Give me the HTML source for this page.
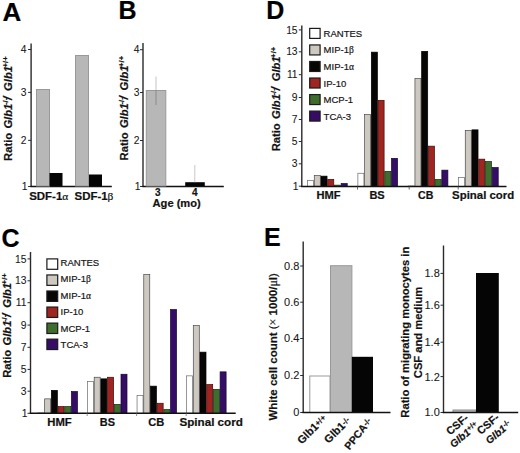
<!DOCTYPE html>
<html><head><meta charset="utf-8"><style>
html,body{margin:0;padding:0;background:#fff;}
svg{display:block;font-family:"Liberation Sans", sans-serif;}
text{stroke:#1a1a1a;stroke-width:0.2px;}
</style></head><body>
<svg width="520" height="453" viewBox="0 0 520 453">
<rect x="0" y="0" width="520" height="453" fill="#fff"/>
<text transform="translate(2.4,20.8) scale(1.04,1)" font-size="25" font-weight="bold" font-style="normal" text-anchor="start" fill="#000" >A</text>
<text transform="translate(118.4,18.8) scale(1.0,1)" font-size="25" font-weight="bold" font-style="normal" text-anchor="start" fill="#000" >B</text>
<text transform="translate(1.4,247.0) scale(1.0,1)" font-size="25" font-weight="bold" font-style="normal" text-anchor="start" fill="#000" >C</text>
<text transform="translate(266.3,18.6) scale(1.0,1)" font-size="25" font-weight="bold" font-style="normal" text-anchor="start" fill="#000" >D</text>
<text transform="translate(264.1,246.2) scale(1.0,1)" font-size="25" font-weight="bold" font-style="normal" text-anchor="start" fill="#000" >E</text>
<line x1="31.1" y1="43.5" x2="31.1" y2="187.1" stroke="#2a2a2a" stroke-width="1.4"/>
<line x1="28.1" y1="49.5" x2="31.1" y2="49.5" stroke="#2a2a2a" stroke-width="1.0"/>
<text transform="translate(26.6,52.787400000000005) scale(1.0,1)" font-size="10.3" font-weight="normal" font-style="normal" text-anchor="end" fill="#161616" style="stroke-width:0.08px">4</text>
<line x1="28.1" y1="92.4" x2="31.1" y2="92.4" stroke="#2a2a2a" stroke-width="1.0"/>
<text transform="translate(26.6,95.6874) scale(1.0,1)" font-size="10.3" font-weight="normal" font-style="normal" text-anchor="end" fill="#161616" style="stroke-width:0.08px">3</text>
<line x1="28.1" y1="140.35" x2="31.1" y2="140.35" stroke="#2a2a2a" stroke-width="1.0"/>
<text transform="translate(26.6,143.5874) scale(1.0,1)" font-size="10.3" font-weight="normal" font-style="normal" text-anchor="end" fill="#161616" style="stroke-width:0.08px">2</text>
<line x1="28.1" y1="186.5" x2="31.1" y2="186.5" stroke="#2a2a2a" stroke-width="1.0"/>
<text transform="translate(27.6,189.7874) scale(1.0,1)" font-size="10.3" font-weight="normal" font-style="normal" text-anchor="end" fill="#161616" style="stroke-width:0.08px">1</text>
<line x1="30.4" y1="186.5" x2="111.8" y2="186.5" stroke="#111" stroke-width="1.5"/>
<rect x="36.50" y="89.50" width="13.00" height="96.50" fill="#b7b7b7" stroke="#999" stroke-width="1"/>
<rect x="49.50" y="173.00" width="13.00" height="13.00" fill="#050505"/>
<rect x="75.50" y="55.50" width="13.00" height="130.50" fill="#b7b7b7" stroke="#999" stroke-width="1"/>
<rect x="89.00" y="174.50" width="13.00" height="11.50" fill="#050505"/>
<text transform="translate(48.75,199.7) scale(1.08,1)" font-size="10.6" font-weight="bold" font-style="normal" text-anchor="middle" fill="#111" >SDF-1<tspan font-family="Liberation Serif" font-weight="normal">α</tspan></text>
<text transform="translate(94.0,199.7) scale(1.08,1)" font-size="10.6" font-weight="bold" font-style="normal" text-anchor="middle" fill="#111" >SDF-1<tspan font-family="Liberation Serif" font-weight="normal">β</tspan></text>
<text transform="translate(11.6,160.1) rotate(-90)" font-size="11.2" font-weight="bold" fill="#111"><tspan x="-0.8">Ratio</tspan><tspan x="31.5" font-style="italic">Glb1</tspan><tspan x="55.0" font-size="7.8" dy="-4">-/-</tspan><tspan x="60.0" dy="4" font-style="italic" font-size="12.5">/</tspan><tspan x="69.2" font-style="italic">Glb1</tspan><tspan x="92.6" font-size="7.8" dy="-4">+/+</tspan></text>
<line x1="143.0" y1="43.0" x2="143.0" y2="187.1" stroke="#2a2a2a" stroke-width="1.4"/>
<line x1="140.0" y1="49.7" x2="143.0" y2="49.7" stroke="#2a2a2a" stroke-width="1.0"/>
<text transform="translate(139.5,53.3874) scale(1.0,1)" font-size="10.3" font-weight="normal" font-style="normal" text-anchor="end" fill="#161616" style="stroke-width:0.08px">4</text>
<line x1="140.0" y1="92.5" x2="143.0" y2="92.5" stroke="#2a2a2a" stroke-width="1.0"/>
<text transform="translate(139.5,96.1874) scale(1.0,1)" font-size="10.3" font-weight="normal" font-style="normal" text-anchor="end" fill="#161616" style="stroke-width:0.08px">3</text>
<line x1="140.0" y1="140.5" x2="143.0" y2="140.5" stroke="#2a2a2a" stroke-width="1.0"/>
<text transform="translate(139.5,144.1874) scale(1.0,1)" font-size="10.3" font-weight="normal" font-style="normal" text-anchor="end" fill="#161616" style="stroke-width:0.08px">2</text>
<line x1="140.0" y1="186.5" x2="143.0" y2="186.5" stroke="#2a2a2a" stroke-width="1.0"/>
<text transform="translate(140.5,190.1874) scale(1.0,1)" font-size="10.3" font-weight="normal" font-style="normal" text-anchor="end" fill="#161616" style="stroke-width:0.08px">1</text>
<line x1="142.3" y1="186.4" x2="223.8" y2="186.4" stroke="#111" stroke-width="1.5"/>
<rect x="146.30" y="90.50" width="19.50" height="95.50" fill="#b7b7b7" stroke="#999" stroke-width="1"/>
<line x1="156" y1="76.5" x2="156" y2="90" stroke="#c4c4c4" stroke-width="1.0"/>
<line x1="156" y1="90" x2="156" y2="105" stroke="#8a8a8a" stroke-width="1.0"/>
<rect x="185.20" y="182.20" width="19.60" height="3.80" fill="#050505"/>
<line x1="194.8" y1="165" x2="194.8" y2="182.2" stroke="#c8c8c8" stroke-width="1.0"/>
<text transform="translate(157.7,196.4) scale(1.0,1)" font-size="10.0" font-weight="bold" font-style="normal" text-anchor="middle" fill="#111" >3</text>
<text transform="translate(194.9,196.4) scale(1.0,1)" font-size="10.0" font-weight="bold" font-style="normal" text-anchor="middle" fill="#111" >4</text>
<text transform="translate(176.65,206.6) scale(1.05,1)" font-size="10.6" font-weight="bold" font-style="normal" text-anchor="middle" fill="#111" >Age (mo)</text>
<text transform="translate(128.3,159.6) rotate(-90)" font-size="11.2" font-weight="bold" fill="#111"><tspan x="-0.8">Ratio</tspan><tspan x="31.5" font-style="italic">Glb1</tspan><tspan x="55.0" font-size="7.8" dy="-4">-/-</tspan><tspan x="60.0" dy="4" font-style="italic" font-size="12.5">/</tspan><tspan x="69.2" font-style="italic">Glb1</tspan><tspan x="92.6" font-size="7.8" dy="-4">+/+</tspan></text>
<line x1="301.8" y1="25.5" x2="301.8" y2="187.1" stroke="#2a2a2a" stroke-width="1.4"/>
<line x1="298.8" y1="29.9" x2="301.8" y2="29.9" stroke="#2a2a2a" stroke-width="1.0"/>
<text transform="translate(297.6,33.5874) scale(1.0,1)" font-size="10.3" font-weight="normal" font-style="normal" text-anchor="end" fill="#161616" style="stroke-width:0.08px">15</text>
<line x1="298.8" y1="51.8" x2="301.8" y2="51.8" stroke="#2a2a2a" stroke-width="1.0"/>
<text transform="translate(297.6,55.487399999999994) scale(1.0,1)" font-size="10.3" font-weight="normal" font-style="normal" text-anchor="end" fill="#161616" style="stroke-width:0.08px">13</text>
<line x1="298.8" y1="74.7" x2="301.8" y2="74.7" stroke="#2a2a2a" stroke-width="1.0"/>
<text transform="translate(297.6,78.3874) scale(1.0,1)" font-size="10.3" font-weight="normal" font-style="normal" text-anchor="end" fill="#161616" style="stroke-width:0.08px">11</text>
<line x1="298.8" y1="97.5" x2="301.8" y2="97.5" stroke="#2a2a2a" stroke-width="1.0"/>
<text transform="translate(297.6,101.1874) scale(1.0,1)" font-size="10.3" font-weight="normal" font-style="normal" text-anchor="end" fill="#161616" style="stroke-width:0.08px">9</text>
<line x1="298.8" y1="119.5" x2="301.8" y2="119.5" stroke="#2a2a2a" stroke-width="1.0"/>
<text transform="translate(297.6,123.1874) scale(1.0,1)" font-size="10.3" font-weight="normal" font-style="normal" text-anchor="end" fill="#161616" style="stroke-width:0.08px">7</text>
<line x1="298.8" y1="141.5" x2="301.8" y2="141.5" stroke="#2a2a2a" stroke-width="1.0"/>
<text transform="translate(297.6,145.1874) scale(1.0,1)" font-size="10.3" font-weight="normal" font-style="normal" text-anchor="end" fill="#161616" style="stroke-width:0.08px">5</text>
<line x1="298.8" y1="163.8" x2="301.8" y2="163.8" stroke="#2a2a2a" stroke-width="1.0"/>
<text transform="translate(297.6,167.4874) scale(1.0,1)" font-size="10.3" font-weight="normal" font-style="normal" text-anchor="end" fill="#161616" style="stroke-width:0.08px">3</text>
<line x1="298.8" y1="186.2" x2="301.8" y2="186.2" stroke="#2a2a2a" stroke-width="1.0"/>
<text transform="translate(298.6,189.88739999999999) scale(1.0,1)" font-size="10.3" font-weight="normal" font-style="normal" text-anchor="end" fill="#161616" style="stroke-width:0.08px">1</text>
<rect x="307.55" y="180.35" width="6.03" height="6.15" fill="#ffffff" stroke="#6a6a6a" stroke-width="0.7"/>
<rect x="314.28" y="175.55" width="6.03" height="10.95" fill="#cdc8c0" stroke="#4a4a4a" stroke-width="0.7"/>
<rect x="321.01" y="176.15" width="6.03" height="10.35" fill="#080605" stroke="#000" stroke-width="0.7"/>
<rect x="327.74" y="179.35" width="6.03" height="7.15" fill="#a02420" stroke="#3a0a08" stroke-width="0.7"/>
<rect x="334.47" y="185.15" width="6.03" height="1.35" fill="#3e6d2c" stroke="#142a10" stroke-width="0.7"/>
<rect x="341.20" y="183.55" width="6.03" height="2.95" fill="#360c66" stroke="#100830" stroke-width="0.7"/>
<rect x="357.88" y="173.25" width="6.03" height="13.25" fill="#ffffff" stroke="#6a6a6a" stroke-width="0.7"/>
<rect x="364.61" y="114.55" width="6.03" height="71.95" fill="#cdc8c0" stroke="#4a4a4a" stroke-width="0.7"/>
<rect x="371.34" y="52.15" width="6.03" height="134.35" fill="#080605" stroke="#000" stroke-width="0.7"/>
<rect x="378.07" y="100.35" width="6.03" height="86.15" fill="#a02420" stroke="#3a0a08" stroke-width="0.7"/>
<rect x="384.80" y="171.35" width="6.03" height="15.15" fill="#3e6d2c" stroke="#142a10" stroke-width="0.7"/>
<rect x="391.53" y="158.35" width="6.03" height="28.15" fill="#360c66" stroke="#100830" stroke-width="0.7"/>
<rect x="408.21" y="185.95" width="6.03" height="0.55" fill="#ffffff" stroke="#6a6a6a" stroke-width="0.7"/>
<rect x="414.94" y="78.55" width="6.03" height="107.95" fill="#cdc8c0" stroke="#4a4a4a" stroke-width="0.7"/>
<rect x="421.67" y="51.35" width="6.03" height="135.15" fill="#080605" stroke="#000" stroke-width="0.7"/>
<rect x="428.40" y="146.15" width="6.03" height="40.35" fill="#a02420" stroke="#3a0a08" stroke-width="0.7"/>
<rect x="435.13" y="179.45" width="6.03" height="7.05" fill="#3e6d2c" stroke="#142a10" stroke-width="0.7"/>
<rect x="441.86" y="170.15" width="6.03" height="16.35" fill="#360c66" stroke="#100830" stroke-width="0.7"/>
<rect x="458.54" y="177.45" width="6.03" height="9.05" fill="#ffffff" stroke="#6a6a6a" stroke-width="0.7"/>
<rect x="465.27" y="130.35" width="6.03" height="56.15" fill="#cdc8c0" stroke="#4a4a4a" stroke-width="0.7"/>
<rect x="472.00" y="129.85" width="6.03" height="56.65" fill="#080605" stroke="#000" stroke-width="0.7"/>
<rect x="478.73" y="159.15" width="6.03" height="27.35" fill="#a02420" stroke="#3a0a08" stroke-width="0.7"/>
<rect x="485.46" y="161.55" width="6.03" height="24.95" fill="#3e6d2c" stroke="#142a10" stroke-width="0.7"/>
<rect x="492.19" y="167.55" width="6.03" height="18.95" fill="#360c66" stroke="#100830" stroke-width="0.7"/>
<line x1="301.1" y1="186.5" x2="506.5" y2="186.5" stroke="#111" stroke-width="1.5"/>
<line x1="357.5" y1="186.5" x2="357.5" y2="189.5" stroke="#555" stroke-width="0.9"/>
<line x1="409.2" y1="186.5" x2="409.2" y2="189.5" stroke="#555" stroke-width="0.9"/>
<line x1="458.2" y1="186.5" x2="458.2" y2="189.5" stroke="#555" stroke-width="0.9"/>
<rect x="309.70" y="28.40" width="10.40" height="10.00" fill="#ffffff" stroke="#1a1a1a" stroke-width="1.2"/>
<text transform="translate(323.6,36.9) scale(1.0,1)" font-size="9.5" font-weight="normal" font-style="normal" text-anchor="start" fill="#141414" >RANTES</text>
<rect x="309.70" y="44.94" width="10.40" height="10.00" fill="#cdc8c0" stroke="#1a1a1a" stroke-width="1.2"/>
<text transform="translate(323.6,53.459999999999994) scale(1.0,1)" font-size="9.5" font-weight="normal" font-style="normal" text-anchor="start" fill="#141414" >MIP-1<tspan font-family="Liberation Serif" font-weight="normal">β</tspan></text>
<rect x="309.70" y="61.48" width="10.40" height="10.00" fill="#080605" stroke="#1a1a1a" stroke-width="1.2"/>
<text transform="translate(323.6,70.02) scale(1.0,1)" font-size="9.5" font-weight="normal" font-style="normal" text-anchor="start" fill="#141414" >MIP-1<tspan font-family="Liberation Serif" font-weight="normal">α</tspan></text>
<rect x="309.70" y="78.02" width="10.40" height="10.00" fill="#a02420" stroke="#1a1a1a" stroke-width="1.2"/>
<text transform="translate(323.6,86.57999999999998) scale(1.0,1)" font-size="9.5" font-weight="normal" font-style="normal" text-anchor="start" fill="#141414" >IP-10</text>
<rect x="309.70" y="94.56" width="10.40" height="10.00" fill="#3e6d2c" stroke="#1a1a1a" stroke-width="1.2"/>
<text transform="translate(323.6,103.13999999999999) scale(1.0,1)" font-size="9.5" font-weight="normal" font-style="normal" text-anchor="start" fill="#141414" >MCP-1</text>
<rect x="309.70" y="111.10" width="10.40" height="10.00" fill="#360c66" stroke="#1a1a1a" stroke-width="1.2"/>
<text transform="translate(323.6,119.69999999999999) scale(1.0,1)" font-size="9.5" font-weight="normal" font-style="normal" text-anchor="start" fill="#141414" >TCA-3</text>
<text transform="translate(328.5,198.8) scale(1.05,1)" font-size="10.6" font-weight="bold" font-style="normal" text-anchor="middle" fill="#111" >HMF</text>
<text transform="translate(377.05,198.8) scale(1.04,1)" font-size="10.6" font-weight="bold" font-style="normal" text-anchor="middle" fill="#111" >BS</text>
<text transform="translate(425.65,198.8) scale(1.0,1)" font-size="10.6" font-weight="bold" font-style="normal" text-anchor="middle" fill="#111" >CB</text>
<text transform="translate(483.15,198.8) scale(1.077,1)" font-size="10.6" font-weight="bold" font-style="normal" text-anchor="middle" fill="#111" >Spinal cord</text>
<text transform="translate(280.0,150.5) rotate(-90)" font-size="11.2" font-weight="bold" fill="#111"><tspan x="-0.8">Ratio</tspan><tspan x="31.5" font-style="italic">Glb1</tspan><tspan x="55.0" font-size="7.8" dy="-4">-/-</tspan><tspan x="60.0" dy="4" font-style="italic" font-size="12.5">/</tspan><tspan x="69.2" font-style="italic">Glb1</tspan><tspan x="92.6" font-size="7.8" dy="-4">+/+</tspan></text>
<line x1="30.5" y1="252.0" x2="30.5" y2="413.90000000000003" stroke="#2a2a2a" stroke-width="1.4"/>
<line x1="27.5" y1="258.9" x2="30.5" y2="258.9" stroke="#2a2a2a" stroke-width="1.0"/>
<text transform="translate(26.4,262.5874) scale(1.0,1)" font-size="10.3" font-weight="normal" font-style="normal" text-anchor="end" fill="#161616" style="stroke-width:0.08px">15</text>
<line x1="27.5" y1="280.8" x2="30.5" y2="280.8" stroke="#2a2a2a" stroke-width="1.0"/>
<text transform="translate(26.4,284.48740000000004) scale(1.0,1)" font-size="10.3" font-weight="normal" font-style="normal" text-anchor="end" fill="#161616" style="stroke-width:0.08px">13</text>
<line x1="27.5" y1="302.7" x2="30.5" y2="302.7" stroke="#2a2a2a" stroke-width="1.0"/>
<text transform="translate(26.4,306.3874) scale(1.0,1)" font-size="10.3" font-weight="normal" font-style="normal" text-anchor="end" fill="#161616" style="stroke-width:0.08px">11</text>
<line x1="27.5" y1="325.1" x2="30.5" y2="325.1" stroke="#2a2a2a" stroke-width="1.0"/>
<text transform="translate(26.4,328.78740000000005) scale(1.0,1)" font-size="10.3" font-weight="normal" font-style="normal" text-anchor="end" fill="#161616" style="stroke-width:0.08px">9</text>
<line x1="27.5" y1="347.3" x2="30.5" y2="347.3" stroke="#2a2a2a" stroke-width="1.0"/>
<text transform="translate(26.4,350.98740000000004) scale(1.0,1)" font-size="10.3" font-weight="normal" font-style="normal" text-anchor="end" fill="#161616" style="stroke-width:0.08px">7</text>
<line x1="27.5" y1="369.4" x2="30.5" y2="369.4" stroke="#2a2a2a" stroke-width="1.0"/>
<text transform="translate(26.4,373.0874) scale(1.0,1)" font-size="10.3" font-weight="normal" font-style="normal" text-anchor="end" fill="#161616" style="stroke-width:0.08px">5</text>
<line x1="27.5" y1="391.2" x2="30.5" y2="391.2" stroke="#2a2a2a" stroke-width="1.0"/>
<text transform="translate(26.4,394.8874) scale(1.0,1)" font-size="10.3" font-weight="normal" font-style="normal" text-anchor="end" fill="#161616" style="stroke-width:0.08px">3</text>
<line x1="27.5" y1="413.3" x2="30.5" y2="413.3" stroke="#2a2a2a" stroke-width="1.0"/>
<text transform="translate(27.4,416.98740000000004) scale(1.0,1)" font-size="10.3" font-weight="normal" font-style="normal" text-anchor="end" fill="#161616" style="stroke-width:0.08px">1</text>
<rect x="37.95" y="412.95" width="6.00" height="0.35" fill="#ffffff" stroke="#6a6a6a" stroke-width="0.7"/>
<rect x="44.65" y="398.85" width="6.00" height="14.45" fill="#cdc8c0" stroke="#4a4a4a" stroke-width="0.7"/>
<rect x="51.35" y="390.35" width="6.00" height="22.95" fill="#080605" stroke="#000" stroke-width="0.7"/>
<rect x="58.05" y="406.55" width="6.00" height="6.75" fill="#a02420" stroke="#3a0a08" stroke-width="0.7"/>
<rect x="64.75" y="406.55" width="6.00" height="6.75" fill="#3e6d2c" stroke="#142a10" stroke-width="0.7"/>
<rect x="71.45" y="391.55" width="6.00" height="21.75" fill="#360c66" stroke="#100830" stroke-width="0.7"/>
<rect x="87.50" y="381.55" width="6.00" height="31.75" fill="#ffffff" stroke="#6a6a6a" stroke-width="0.7"/>
<rect x="94.20" y="377.25" width="6.00" height="36.05" fill="#cdc8c0" stroke="#4a4a4a" stroke-width="0.7"/>
<rect x="100.90" y="378.85" width="6.00" height="34.45" fill="#080605" stroke="#000" stroke-width="0.7"/>
<rect x="107.60" y="377.25" width="6.00" height="36.05" fill="#a02420" stroke="#3a0a08" stroke-width="0.7"/>
<rect x="114.30" y="404.35" width="6.00" height="8.95" fill="#3e6d2c" stroke="#142a10" stroke-width="0.7"/>
<rect x="121.00" y="374.25" width="6.00" height="39.05" fill="#360c66" stroke="#100830" stroke-width="0.7"/>
<rect x="137.05" y="395.55" width="6.00" height="17.75" fill="#ffffff" stroke="#6a6a6a" stroke-width="0.7"/>
<rect x="143.75" y="274.55" width="6.00" height="138.75" fill="#cdc8c0" stroke="#4a4a4a" stroke-width="0.7"/>
<rect x="150.45" y="386.15" width="6.00" height="27.15" fill="#080605" stroke="#000" stroke-width="0.7"/>
<rect x="157.15" y="403.25" width="6.00" height="10.05" fill="#a02420" stroke="#3a0a08" stroke-width="0.7"/>
<rect x="163.85" y="409.55" width="6.00" height="3.75" fill="#3e6d2c" stroke="#142a10" stroke-width="0.7"/>
<rect x="170.55" y="309.55" width="6.00" height="103.75" fill="#360c66" stroke="#100830" stroke-width="0.7"/>
<rect x="186.60" y="375.85" width="6.00" height="37.45" fill="#ffffff" stroke="#6a6a6a" stroke-width="0.7"/>
<rect x="193.30" y="325.55" width="6.00" height="87.75" fill="#cdc8c0" stroke="#4a4a4a" stroke-width="0.7"/>
<rect x="200.00" y="352.15" width="6.00" height="61.15" fill="#080605" stroke="#000" stroke-width="0.7"/>
<rect x="206.70" y="384.55" width="6.00" height="28.75" fill="#a02420" stroke="#3a0a08" stroke-width="0.7"/>
<rect x="213.40" y="389.35" width="6.00" height="23.95" fill="#3e6d2c" stroke="#142a10" stroke-width="0.7"/>
<rect x="220.10" y="371.85" width="6.00" height="41.45" fill="#360c66" stroke="#100830" stroke-width="0.7"/>
<line x1="29.8" y1="413.3" x2="235.7" y2="413.3" stroke="#111" stroke-width="1.5"/>
<line x1="87.2" y1="413.3" x2="87.2" y2="416.0" stroke="#777" stroke-width="0.8"/>
<line x1="136.6" y1="413.3" x2="136.6" y2="416.0" stroke="#777" stroke-width="0.8"/>
<line x1="186.2" y1="413.3" x2="186.2" y2="416.0" stroke="#777" stroke-width="0.8"/>
<rect x="46.90" y="258.90" width="10.80" height="10.40" fill="#ffffff" stroke="#1a1a1a" stroke-width="1.2"/>
<text transform="translate(60.6,266.0) scale(1.0,1)" font-size="9.5" font-weight="normal" font-style="normal" text-anchor="start" fill="#141414" >RANTES</text>
<rect x="46.90" y="274.95" width="10.80" height="10.40" fill="#cdc8c0" stroke="#1a1a1a" stroke-width="1.2"/>
<text transform="translate(60.6,282.46) scale(1.0,1)" font-size="9.5" font-weight="normal" font-style="normal" text-anchor="start" fill="#141414" >MIP-1<tspan font-family="Liberation Serif" font-weight="normal">β</tspan></text>
<rect x="46.90" y="291.00" width="10.80" height="10.40" fill="#080605" stroke="#1a1a1a" stroke-width="1.2"/>
<text transform="translate(60.6,298.92) scale(1.0,1)" font-size="9.5" font-weight="normal" font-style="normal" text-anchor="start" fill="#141414" >MIP-1<tspan font-family="Liberation Serif" font-weight="normal">α</tspan></text>
<rect x="46.90" y="307.05" width="10.80" height="10.40" fill="#a02420" stroke="#1a1a1a" stroke-width="1.2"/>
<text transform="translate(60.6,315.38) scale(1.0,1)" font-size="9.5" font-weight="normal" font-style="normal" text-anchor="start" fill="#141414" >IP-10</text>
<rect x="46.90" y="323.10" width="10.80" height="10.40" fill="#3e6d2c" stroke="#1a1a1a" stroke-width="1.2"/>
<text transform="translate(60.6,331.84000000000003) scale(1.0,1)" font-size="9.5" font-weight="normal" font-style="normal" text-anchor="start" fill="#141414" >MCP-1</text>
<rect x="46.90" y="339.15" width="10.80" height="10.40" fill="#360c66" stroke="#1a1a1a" stroke-width="1.2"/>
<text transform="translate(60.6,348.3) scale(1.0,1)" font-size="9.5" font-weight="normal" font-style="normal" text-anchor="start" fill="#141414" >TCA-3</text>
<text transform="translate(59.5,426.0) scale(1.07,1)" font-size="10.6" font-weight="bold" font-style="normal" text-anchor="middle" fill="#111" >HMF</text>
<text transform="translate(107.4,426.0) scale(1.03,1)" font-size="10.6" font-weight="bold" font-style="normal" text-anchor="middle" fill="#111" >BS</text>
<text transform="translate(156.35,426.0) scale(1.05,1)" font-size="10.6" font-weight="bold" font-style="normal" text-anchor="middle" fill="#111" >CB</text>
<text transform="translate(211.15,426.0) scale(1.1,1)" font-size="10.6" font-weight="bold" font-style="normal" text-anchor="middle" fill="#111" >Spinal cord</text>
<text transform="translate(11.0,377.0) rotate(-90)" font-size="11.2" font-weight="bold" fill="#111"><tspan x="-0.8">Ratio</tspan><tspan x="31.5" font-style="italic">Glb1</tspan><tspan x="55.0" font-size="7.8" dy="-4">-/-</tspan><tspan x="60.0" dy="4" font-style="italic" font-size="12.5">/</tspan><tspan x="69.2" font-style="italic">Glb1</tspan><tspan x="92.6" font-size="7.8" dy="-4">+/+</tspan></text>
<line x1="303.2" y1="241.5" x2="303.2" y2="413.1" stroke="#2a2a2a" stroke-width="1.4"/>
<line x1="300.2" y1="266.0" x2="303.2" y2="266.0" stroke="#2a2a2a" stroke-width="1.0"/>
<text transform="translate(299.4,269.938) scale(1.0,1)" font-size="11" font-weight="normal" font-style="normal" text-anchor="end" fill="#161616" style="stroke-width:0.08px">0.8</text>
<line x1="300.2" y1="302.2" x2="303.2" y2="302.2" stroke="#2a2a2a" stroke-width="1.0"/>
<text transform="translate(299.4,306.138) scale(1.0,1)" font-size="11" font-weight="normal" font-style="normal" text-anchor="end" fill="#161616" style="stroke-width:0.08px">0.6</text>
<line x1="300.2" y1="338.5" x2="303.2" y2="338.5" stroke="#2a2a2a" stroke-width="1.0"/>
<text transform="translate(299.4,342.438) scale(1.0,1)" font-size="11" font-weight="normal" font-style="normal" text-anchor="end" fill="#161616" style="stroke-width:0.08px">0.4</text>
<line x1="300.2" y1="375.5" x2="303.2" y2="375.5" stroke="#2a2a2a" stroke-width="1.0"/>
<text transform="translate(299.4,379.438) scale(1.0,1)" font-size="11" font-weight="normal" font-style="normal" text-anchor="end" fill="#161616" style="stroke-width:0.08px">0.2</text>
<line x1="300.2" y1="412.5" x2="303.2" y2="412.5" stroke="#2a2a2a" stroke-width="1.0"/>
<text transform="translate(299.4,416.438) scale(1.0,1)" font-size="11" font-weight="normal" font-style="normal" text-anchor="end" fill="#161616" style="stroke-width:0.08px">0</text>
<rect x="309.80" y="376.00" width="20.20" height="36.50" fill="#ffffff" stroke="#9a9a9a" stroke-width="1"/>
<rect x="330.50" y="265.70" width="21.40" height="146.80" fill="#b7b7b7" stroke="#999" stroke-width="1"/>
<rect x="351.80" y="356.80" width="21.20" height="55.70" fill="#050505"/>
<line x1="302.5" y1="412.4" x2="390.5" y2="412.4" stroke="#111" stroke-width="1.5"/>
<text transform="translate(301.8,444.8) rotate(-45)" font-size="11" font-weight="bold" fill="#111">Glb1<tspan font-size="8.0" dy="-1.5">+/+</tspan></text>
<text transform="translate(328.6,443.9) rotate(-45)" font-size="11" font-weight="bold" fill="#111">Glb1<tspan font-size="8.0" dy="-1.5">-/-</tspan></text>
<text transform="translate(349.6,450.6) rotate(-52)" font-size="10.6" font-weight="bold" fill="#111">PPCA<tspan font-size="8.0" dy="-1.5">-/-</tspan></text>
<text transform="translate(276.6,420.6) rotate(-90)" font-size="11.5" font-weight="bold" fill="#111">White cell count <tspan font-weight="normal">(</tspan><tspan font-family="Liberation Serif" font-weight="normal" font-size="12">×</tspan> 1000/<tspan font-family="Liberation Serif" font-weight="normal" font-size="12">μ</tspan>l<tspan font-weight="normal">)</tspan></text>
<line x1="443.5" y1="245.5" x2="443.5" y2="413.1" stroke="#2a2a2a" stroke-width="1.4"/>
<line x1="440.5" y1="273.4" x2="443.5" y2="273.4" stroke="#2a2a2a" stroke-width="1.0"/>
<text transform="translate(439.8,277.33799999999997) scale(1.0,1)" font-size="11" font-weight="normal" font-style="normal" text-anchor="end" fill="#161616" style="stroke-width:0.08px">1.8</text>
<line x1="440.5" y1="305.2" x2="443.5" y2="305.2" stroke="#2a2a2a" stroke-width="1.0"/>
<text transform="translate(439.8,309.138) scale(1.0,1)" font-size="11" font-weight="normal" font-style="normal" text-anchor="end" fill="#161616" style="stroke-width:0.08px">1.6</text>
<line x1="440.5" y1="342.2" x2="443.5" y2="342.2" stroke="#2a2a2a" stroke-width="1.0"/>
<text transform="translate(439.8,346.138) scale(1.0,1)" font-size="11" font-weight="normal" font-style="normal" text-anchor="end" fill="#161616" style="stroke-width:0.08px">1.4</text>
<line x1="440.5" y1="376.6" x2="443.5" y2="376.6" stroke="#2a2a2a" stroke-width="1.0"/>
<text transform="translate(439.8,380.538) scale(1.0,1)" font-size="11" font-weight="normal" font-style="normal" text-anchor="end" fill="#161616" style="stroke-width:0.08px">1.2</text>
<line x1="440.5" y1="412.5" x2="443.5" y2="412.5" stroke="#2a2a2a" stroke-width="1.0"/>
<text transform="translate(439.8,416.438) scale(1.0,1)" font-size="11" font-weight="normal" font-style="normal" text-anchor="end" fill="#161616" style="stroke-width:0.08px">1.0</text>
<rect x="453.00" y="410.00" width="23.00" height="2.50" fill="#bababa" stroke="#8c8c8c" stroke-width="1"/>
<rect x="476.00" y="273.00" width="22.80" height="139.50" fill="#050505"/>
<line x1="442.8" y1="412.5" x2="518.2" y2="412.5" stroke="#111" stroke-width="1.5"/>
<text transform="translate(450.0,435.5) rotate(-40)" font-size="10.8" font-weight="bold" fill="#111">CSF-</text>
<text transform="translate(453.5,448.3) rotate(-40)" font-size="10.3" font-weight="bold" fill="#111"><tspan font-style="italic">Glb1</tspan><tspan font-size="7.4" dy="-3">+/+</tspan></text>
<text transform="translate(480.8,435.0) rotate(-40)" font-size="10.8" font-weight="bold" fill="#111">CSF-</text>
<text transform="translate(489.3,444.6) rotate(-40)" font-size="10.3" font-weight="bold" fill="#111"><tspan font-style="italic">Glb1</tspan><tspan font-size="7.4" dy="-3">-/-</tspan></text>
<text transform="translate(409.2,332.2) rotate(-90)" font-size="11.2" font-weight="bold" fill="#111" text-anchor="middle">Ratio of migrating monocytes in</text>
<text transform="translate(421.5,332.5) rotate(-90)" font-size="11.2" font-weight="bold" fill="#111" text-anchor="middle">CSF and medium</text>
</svg>
</body></html>
